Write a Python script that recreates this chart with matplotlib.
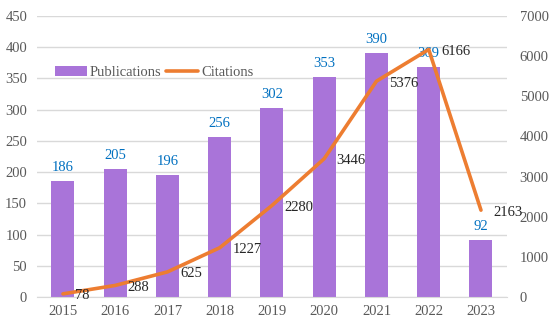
import numpy as np
import matplotlib.pyplot as plt

plt.rcParams['font.family'] = ['Liberation Serif', 'DejaVu Serif']

years = ['2015', '2016', '2017', '2018', '2019', '2020', '2021', '2022', '2023']
publications = [186, 205, 196, 256, 302, 353, 390, 369, 92]
citations = [78, 288, 625, 1227, 2280, 3446, 5376, 6166, 2163]

bar_color = '#A974D9'
line_color = '#ED7D31'
grid_color = '#D9D9D9'
tick_color = '#595959'

fig = plt.figure(figsize=(5.5, 3.26), dpi=100)
ax = fig.add_axes([0.067, 0.089, 0.855, 0.862])
ax2 = ax.twinx()

x = np.arange(len(years))
bars = ax.bar(x, publications, width=0.44, color=bar_color, label='Publications', zorder=2)
for xi, v in zip(x, publications):
    ax.annotate(str(v), (xi, v), xytext=(0, 5), textcoords='offset points',
                ha='center', va='bottom', color='#0070C0', fontsize=10.5)

ax.set_ylim(0, 450)
ax.set_yticks(range(0, 451, 50))
ax.set_xlim(-0.5, 8.5)
ax.set_xticks(x)
ax.set_xticklabels(years)
ax.yaxis.grid(True, color=grid_color, linewidth=1, zorder=0)
ax.set_axisbelow(True)

line, = ax2.plot(x, citations, color=line_color, linewidth=2.6, label='Citations',
                 solid_capstyle='round', zorder=3)
for xi, v in zip(x, citations):
    ax2.annotate(str(v), (xi, v), xytext=(9, -1.5), textcoords='offset points',
                 ha='left', va='center', color='#262626', fontsize=10.5)
ax2.set_ylim(0, 7000)
ax2.set_yticks(range(0, 7001, 1000))

for a in (ax, ax2):
    for s in ['top', 'left', 'right']:
        a.spines[s].set_visible(False)
    a.tick_params(length=0, labelsize=10.5, colors=tick_color)
ax.spines['bottom'].set_color(grid_color)
ax2.spines['bottom'].set_visible(False)
ax.tick_params(axis='y', pad=7)
ax.tick_params(axis='x', pad=6)
ax2.tick_params(axis='y', pad=9)

ax.legend([bars, line], ['Publications', 'Citations'], loc='upper left',
          bbox_to_anchor=(0.01, 0.87), ncol=2, frameon=False, fontsize=10.5,
          handlelength=2.2, handletextpad=0.2, columnspacing=0.35, labelcolor=tick_color)

fig.savefig('out.png', dpi=100)
